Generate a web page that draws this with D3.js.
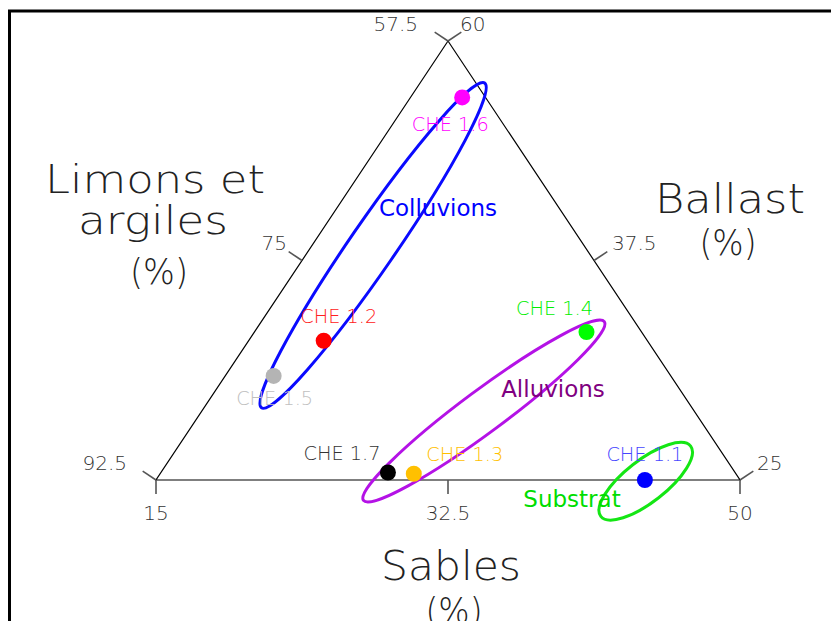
<!DOCTYPE html>
<html>
<head>
<meta charset="utf-8">
<script src="https://cdn.jsdelivr.net/npm/d3@7"></script>
<style>
  html, body { margin: 0; padding: 0; background: #fff; }
  svg { display: block; }
  .thin { font-family: 'DejaVu Sans ExtraLight', 'DejaVu Sans', sans-serif; font-weight: 200; }
  .grp { font-family: 'DejaVu Sans', sans-serif; font-weight: normal; }
</style>
</head>
<body>
<div id="chart"></div>
<script>
// ---------- data ----------
const samples   = ["CHE 1.1", "CHE 1.2", "CHE 1.3", "CHE 1.4", "CHE 1.5", "CHE 1.6", "CHE 1.7"];
const sables    = [44.3, 19.5, 30.2, 34.9, 17.9, 18.1, 28.6];   // Sables (%)
const ballast   = [25.0, 36.1, 25.5, 36.8, 33.3, 55.5, 25.6];   // Ballast (%)

const sablesTicks  = ["15", "32.5", "50"];
const limonsTicks  = ["92.5", "75", "57.5"];
const ballastTicks = ["25", "37.5", "60"];

const groups        = ["Colluvions", "Alluvions", "Substrat"];
const groupSables   = [18.66, 31.9, 44.4];
const groupBallast  = [43.7, 30.5, 24.9];

// ---------- styles / layout ----------
const pointColors = ["#0000ff", "#ff0000", "#ffc000", "#00ff00", "#b4b4b4", "#ff00ff", "#000000"];
const labelColors = ["#4646ff", "#ff2020", "#ffc000", "#00ee00", "#c0c0c0", "#ff00ff", "#333333"];
const labelOffsets = [[0, -19], [15, -18], [51, -13], [-32, -17], [1, 29], [-12, 34], [-46, -12]];
const groupStroke = ["#0a0aff", "#b412e6", "#14e614"];
const groupText   = ["#0000ff", "#800080", "#00dd00"];
const groupRadii  = [[197, 23, -55.5], [150, 21, -36.6], [57, 21, -38]];
const groupLabelPos = [[438, 216], [553, 397], [572, 507]];

const W = 831, H = 621;
const svg = d3.select("#chart").append("svg").attr("width", W).attr("height", H);

// frame
svg.append("path").attr("d", "M9.5,621 L9.5,11 L831,11")
  .attr("fill", "none").attr("stroke", "#000").attr("stroke-width", 3);

// triangle geometry
const A = [156, 480], B = [740, 480], C = [448, 41];
const wB = d3.scaleLinear().domain([15, 50]).range([0, 1]);   // sables weight
const wC = d3.scaleLinear().domain([25, 60]).range([0, 1]);   // ballast weight
function proj(s, b) {
  const u = wB(s), v = wC(b);
  return [A[0] + u * (B[0] - A[0]) + v * (C[0] - A[0]),
          A[1] + u * (B[1] - A[1]) + v * (C[1] - A[1])];
}
const lerp = (p, q, t) => [p[0] + (q[0] - p[0]) * t, p[1] + (q[1] - p[1]) * t];

// triangle
svg.append("path")
  .attr("d", `M${A[0]},${A[1]}L${B[0]},${B[1]}L${C[0]},${C[1]}Z`)
  .attr("fill", "none").attr("stroke", "#000").attr("stroke-width", 1.2);

// axes (point scales along each side)
const tickCol = "#555";
const sx = d3.scalePoint().domain(sablesTicks).range([0, 1]);
const sl = d3.scalePoint().domain(limonsTicks).range([0, 1]);
const sr = d3.scalePoint().domain(ballastTicks).range([0, 1]);

// bottom - Sables
sablesTicks.forEach(t => {
  const p = lerp(A, B, sx(t));
  svg.append("line").attr("x1", p[0]).attr("y1", p[1]).attr("x2", p[0]).attr("y2", p[1] + 14)
    .attr("stroke", tickCol).attr("stroke-width", 1.6);
  svg.append("text").attr("class", "thin").attr("x", p[0]).attr("y", 520)
    .attr("text-anchor", "middle").attr("font-size", 20).attr("fill", "#333").text(t);
});
// left - Limons et argiles
const lenL = Math.hypot(C[0] - A[0], C[1] - A[1]);
const nL = [(A[1] - C[1]) / lenL * -1, (C[0] - A[0]) / lenL * -1]; // outward normal
const leftDx = [-29, -15, -30];
limonsTicks.forEach((t, i) => {
  const p = lerp(A, C, sl(t));
  svg.append("line").attr("x1", p[0]).attr("y1", p[1])
    .attr("x2", p[0] + nL[0] * 16).attr("y2", p[1] + nL[1] * 16)
    .attr("stroke", tickCol).attr("stroke-width", 1.6);
  svg.append("text").attr("class", "thin").attr("x", p[0] + leftDx[i]).attr("y", p[1] - 10.5)
    .attr("text-anchor", "end").attr("font-size", 20).attr("fill", "#333").text(t);
});
// right - Ballast
const lenR = Math.hypot(C[0] - B[0], C[1] - B[1]);
const nR = [(B[1] - C[1]) / lenR, (C[0] - B[0]) / lenR];
const rightDx = [17, 18, 12];
ballastTicks.forEach((t, i) => {
  const p = lerp(B, C, sr(t));
  svg.append("line").attr("x1", p[0]).attr("y1", p[1])
    .attr("x2", p[0] + nR[0] * 16).attr("y2", p[1] + nR[1] * 16)
    .attr("stroke", tickCol).attr("stroke-width", 1.6);
  svg.append("text").attr("class", "thin").attr("x", p[0] + rightDx[i]).attr("y", p[1] - 10.5)
    .attr("text-anchor", "start").attr("font-size", 20).attr("fill", "#333").text(t);
});

// axis titles
function bigText(txt, cx, y, len, size) {
  svg.append("text").attr("class", "thin").attr("x", cx).attr("y", y)
    .attr("text-anchor", "middle").attr("font-size", size).attr("fill", "#222")
    .attr("textLength", len).attr("lengthAdjust", "spacingAndGlyphs").text(txt);
}
bigText("Limons et", 155, 193, 220, 39);
bigText("argiles", 153, 234, 150, 39);
bigText("(%)", 159, 284, 58, 36);
bigText("Ballast", 730, 213, 150, 40);
bigText("(%)", 728, 255, 57, 36);
bigText("Sables", 451, 580, 140, 40);
bigText("(%)", 454, 623, 57, 36);

// group ellipses
groups.forEach((g, i) => {
  const c = proj(groupSables[i], groupBallast[i]);
  const [rx, ry, ang] = groupRadii[i];
  svg.append("ellipse").attr("cx", 0).attr("cy", 0).attr("rx", rx).attr("ry", ry)
    .attr("transform", `translate(${c[0]},${c[1]}) rotate(${ang})`)
    .attr("fill", "none").attr("stroke", groupStroke[i]).attr("stroke-width", 3);
});

// points
samples.forEach((s, i) => {
  const p = proj(sables[i], ballast[i]);
  svg.append("circle").attr("cx", p[0]).attr("cy", p[1]).attr("r", 8)
    .attr("fill", pointColors[i]);
  svg.append("text").attr("class", "thin")
    .attr("x", p[0] + labelOffsets[i][0]).attr("y", p[1] + labelOffsets[i][1])
    .attr("text-anchor", "middle").attr("font-size", 20)
    .attr("textLength", 77).attr("lengthAdjust", "spacingAndGlyphs")
    .attr("fill", labelColors[i]).text(s);
});

// group labels
groups.forEach((g, i) => {
  svg.append("text").attr("class", "grp")
    .attr("x", groupLabelPos[i][0]).attr("y", groupLabelPos[i][1])
    .attr("text-anchor", "middle").attr("font-size", 23)
    .attr("fill", groupText[i]).text(g);
});
</script>
</body>
</html>
